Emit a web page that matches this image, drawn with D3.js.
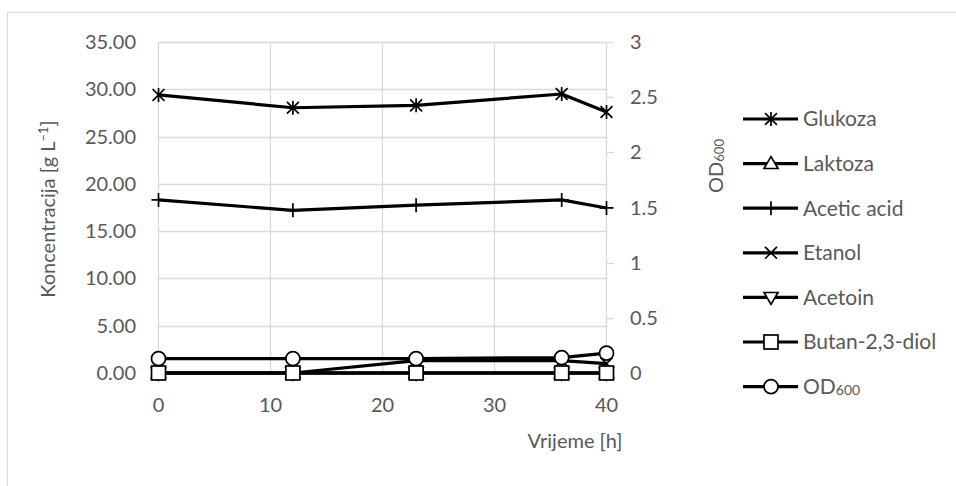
<!DOCTYPE html>
<html>
<head>
<meta charset="utf-8">
<script src="https://cdn.jsdelivr.net/npm/d3@7"></script>
<style>
  html, body { margin: 0; padding: 0; background: #fff; }
  svg { display: block; }
  text { font-family: Lato, "Open Sans", sans-serif; fill: #595959; }
</style>
</head>
<body>
<svg id="chart" width="956" height="486"></svg>
<script>
// ---- data ----
const timeH = [0, 12, 23, 36, 40];
const glukoza = [29.4, 28.05, 28.3, 29.5, 27.6];
const laktoza = [0, 0, 0, 0, 0];
const aceticAcid = [18.3, 17.2, 17.75, 18.3, 17.45];
const etanol = [0, 0, 1.3, 1.3, 1.0];
const acetoin = [0, 0, 0, 0, 0];
const butandiol = [0, 0, 0, 0, 0];
const od600 = [0.13, 0.13, 0.13, 0.14, 0.18];

const xTicks = [0, 10, 20, 30, 40];
const yLeftTicks = [0, 5, 10, 15, 20, 25, 30, 35];
const yRightTicks = [0, 0.5, 1, 1.5, 2, 2.5, 3];

const seriesNames = ["Glukoza", "Laktoza", "Acetic acid", "Etanol", "Acetoin", "Butan-2,3-diol", "OD600"];
const seriesValues = [glukoza, laktoza, aceticAcid, etanol, acetoin, butandiol, od600];
const seriesAxis = ["left", "left", "left", "left", "left", "left", "right"];
const seriesMarker = ["star", "triUp", "plus", "cross", "triDown", "square", "circle"];

// ---- layout ----
const svg = d3.select("#chart");
const pLeft = 158.5, pRight = 606.5, pTop = 42, pBottom = 373;
const x = d3.scaleLinear().domain([0, 40]).range([pLeft, pRight]);
const yL = d3.scaleLinear().domain([0, 35]).range([pBottom, pTop]);
const yR = d3.scaleLinear().domain([0, 3]).range([pBottom, pTop]);
const grid = "#d9d9d9";

// chart border
svg.append("rect").attr("x", 7.5).attr("y", 12.5).attr("width", 1000).attr("height", 600)
  .attr("fill", "none").attr("stroke", grid).attr("stroke-width", 1);

// gridlines
svg.append("g").selectAll("line").data(yLeftTicks).join("line")
  .attr("x1", pLeft).attr("x2", pRight)
  .attr("y1", d => Math.round(yL(d)) + 0.5).attr("y2", d => Math.round(yL(d)) + 0.5)
  .attr("stroke", grid).attr("stroke-width", 1.3);
svg.append("g").selectAll("line").data(xTicks).join("line")
  .attr("y1", pTop).attr("y2", pBottom)
  .attr("x1", d => x(d)).attr("x2", d => x(d))
  .attr("stroke", grid).attr("stroke-width", 1.3);

// right axis ticks (outward)
svg.append("g").selectAll("line").data(yRightTicks).join("line")
  .attr("x1", pRight).attr("x2", pRight + 7)
  .attr("y1", d => Math.round(yR(d)) + 0.5).attr("y2", d => Math.round(yR(d)) + 0.5)
  .attr("stroke", grid).attr("stroke-width", 1.3);

const fs = 20;
// left tick labels
svg.append("g").selectAll("text").data(yLeftTicks).join("text")
  .attr("x", 136).attr("y", d => yL(d)).attr("dy", "0.35em")
  .attr("text-anchor", "end").attr("font-size", fs)
  .text(d => d3.format(".2f")(d));
// right tick labels
svg.append("g").selectAll("text").data(yRightTicks).join("text")
  .attr("x", 630).attr("y", d => yR(d)).attr("dy", "0.35em")
  .attr("text-anchor", "start").attr("font-size", fs)
  .text(d => String(d));
// x tick labels
svg.append("g").selectAll("text").data(xTicks).join("text")
  .attr("x", d => x(d)).attr("y", 405).attr("dy", "0.35em")
  .attr("text-anchor", "middle").attr("font-size", fs)
  .text(d => d);

// axis titles
const lt = svg.append("text").attr("transform", "translate(55,209) rotate(-90)")
  .attr("text-anchor", "middle").attr("font-size", fs);
lt.append("tspan").text("Koncentracija [g L");
lt.append("tspan").attr("font-size", 13).attr("baseline-shift", "55%").text("−1");
lt.append("tspan").text("]");

const rt = svg.append("text").attr("transform", "translate(723,166) rotate(-90)")
  .attr("text-anchor", "middle").attr("font-size", fs);
rt.append("tspan").text("OD");
rt.append("tspan").attr("font-size", 13).attr("baseline-shift", "-10%").text("600");

svg.append("text").attr("x", 575).attr("y", 441).attr("dy", "0.35em")
  .attr("text-anchor", "middle").attr("font-size", fs).text("Vrijeme [h]");

// markers
function drawMarker(g, type, cx, cy) {
  const s = 7;
  const st = { stroke: "#000", "stroke-width": 1.7 };
  const apply = sel => { for (const k in st) sel.attr(k, st[k]); return sel; };
  if (type === "circle") {
    apply(g.append("circle").attr("cx", cx).attr("cy", cy).attr("r", s).attr("fill", "#fff"));
  } else if (type === "square") {
    apply(g.append("rect").attr("x", cx - s).attr("y", cy - s).attr("width", 2 * s).attr("height", 2 * s).attr("fill", "#fff"));
  } else if (type === "triUp") {
    apply(g.append("path").attr("d", `M${cx},${cy - s}L${cx + s},${cy + s * 0.7}L${cx - s},${cy + s * 0.7}Z`).attr("fill", "#fff"));
  } else if (type === "triDown") {
    apply(g.append("path").attr("d", `M${cx},${cy + s}L${cx + s},${cy - s * 0.7}L${cx - s},${cy - s * 0.7}Z`).attr("fill", "#fff"));
  } else if (type === "plus") {
    apply(g.append("path").attr("d", `M${cx - s},${cy}H${cx + s}M${cx},${cy - s}V${cy + s}`).attr("fill", "none"));
  } else if (type === "cross") {
    const c = s * 0.85;
    apply(g.append("path").attr("d", `M${cx - c},${cy - c}L${cx + c},${cy + c}M${cx - c},${cy + c}L${cx + c},${cy - c}`).attr("fill", "none"));
  } else if (type === "star") {
    const c = s * 0.85;
    apply(g.append("path").attr("d", `M${cx - c},${cy - c}L${cx + c},${cy + c}M${cx - c},${cy + c}L${cx + c},${cy - c}M${cx},${cy - s}V${cy + s}`).attr("fill", "none"));
  }
}

// series
const plot = svg.append("g");
seriesValues.forEach((vals, i) => {
  const ys = seriesAxis[i] === "right" ? yR : yL;
  const pts = timeH.map((t, j) => [x(t), ys(vals[j])]);
  const g = plot.append("g");
  g.append("path").attr("d", d3.line()(pts))
    .attr("fill", "none").attr("stroke", "#000").attr("stroke-width", 3.2)
    .attr("stroke-linejoin", "round");
  pts.forEach(p => drawMarker(g, seriesMarker[i], p[0], p[1]));
});

// legend
const leg = svg.append("g");
seriesNames.forEach((name, i) => {
  const ly = 119 + i * 44.6;
  const g = leg.append("g");
  g.append("line").attr("x1", 743).attr("x2", 798).attr("y1", ly).attr("y2", ly)
    .attr("stroke", "#000").attr("stroke-width", 3.2);
  drawMarker(g, seriesMarker[i], 771, ly);
  const t = g.append("text").attr("x", 803).attr("y", ly).attr("dy", "0.35em").attr("font-size", 21);
  if (name === "OD600") {
    t.append("tspan").text("OD");
    t.append("tspan").attr("font-size", 14).attr("baseline-shift", "-10%").text("600");
  } else {
    t.text(name);
  }
});
</script>
</body>
</html>
